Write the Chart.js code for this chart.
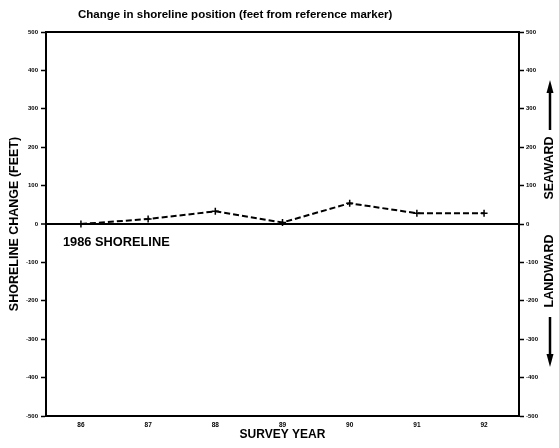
<!DOCTYPE html>
<html lang="en">
<head>
<meta charset="UTF-8">
<title>Change in shoreline position</title>
<script src="https://cdn.jsdelivr.net/npm/chart.js"></script>
<style>
  html, body { margin: 0; padding: 0; background: #fff; }
</style>
</head>
<body>
<canvas id="chart" width="559" height="448"></canvas>
<script>
// survey years and shoreline change (feet, + = seaward)
const years = [86, 87, 88, 89, 90, 91, 92];
const change = [0, 13, 33, 4, 54, 28, 28];
const xMin = 85.48, xMax = 92.52;
const yMin = -500, yMax = 500, yStep = 100;

const FONT = '"Liberation Sans", Arial, sans-serif';

function arrow(ctx, x, y1, y2) {
  // shaft from y1 to y2, head at y2
  const dir = y2 < y1 ? -1 : 1;
  ctx.beginPath();
  ctx.lineWidth = 2.5;
  ctx.moveTo(x, y1);
  ctx.lineTo(x, y2 - dir * 10);
  ctx.stroke();
  ctx.beginPath();
  ctx.moveTo(x, y2);
  ctx.lineTo(x - 3.5, y2 - dir * 13);
  ctx.lineTo(x + 3.5, y2 - dir * 13);
  ctx.closePath();
  ctx.fill();
}

const decor = {
  id: 'decor',
  afterDraw(chart) {
    const ctx = chart.ctx;
    const a = chart.chartArea;
    ctx.save();
    ctx.strokeStyle = '#000';
    ctx.fillStyle = '#000';
    // top frame line
    ctx.lineWidth = 2;
    ctx.beginPath();
    ctx.moveTo(a.left - 1, a.top);
    ctx.lineTo(a.right + 1, a.top);
    ctx.stroke();

    ctx.textBaseline = 'middle';
    ctx.font = 'bold 11.5px ' + FONT;
    ctx.textAlign = 'left';
    ctx.fillText('Change in shoreline position (feet from reference marker)', 78, 15);

    ctx.font = 'bold 12.8px ' + FONT;
    ctx.fillText('1986 SHORELINE', 63, 242);

    // right side labels
    ctx.font = 'bold 12.5px ' + FONT;
    ctx.textAlign = 'center';
    ctx.save();
    ctx.translate(550, 168);
    ctx.rotate(-Math.PI / 2);
    ctx.fillText('SEAWARD', 0, 0);
    ctx.restore();
    ctx.save();
    ctx.translate(550, 271);
    ctx.rotate(-Math.PI / 2);
    ctx.fillText('LANDWARD', 0, 0);
    ctx.restore();

    arrow(ctx, 550, 130, 80);
    arrow(ctx, 550, 317, 367);
    ctx.restore();
  }
};

const yGrid = {
  color: c => (c.tick && c.tick.value === 0 ? '#000' : 'rgba(0,0,0,0)'),
  lineWidth: c => (c.tick && c.tick.value === 0 ? 2 : 1),
  tickColor: '#000',
  tickWidth: 1.5,
  tickLength: 5
};

new Chart(document.getElementById('chart'), {
  type: 'line',
  data: {
    datasets: [{
      label: 'Shoreline change',
      data: years.map((y, i) => ({ x: y, y: change[i] })),
      borderColor: '#000',
      backgroundColor: '#000',
      borderWidth: 2,
      borderDash: [6, 3],
      pointStyle: 'cross',
      pointRadius: 3.5,
      pointBorderWidth: 1.5,
      fill: false,
      tension: 0
    }]
  },
  options: {
    responsive: false,
    animation: false,
    devicePixelRatio: 1,
    layout: { padding: { top: 32, left: 0, right: 0, bottom: 0 } },
    plugins: {
      legend: { display: false },
      tooltip: { enabled: false },
      title: { display: false }
    },
    scales: {
      x: {
        type: 'linear',
        min: xMin,
        max: xMax,
        afterBuildTicks: s => { s.ticks = years.map(v => ({ value: v })); },
        afterFit: s => { s.height = 32; },
        ticks: {
          autoSkip: false,
          padding: 5,
          color: '#000',
          font: { family: FONT, size: 6.5, weight: 'bold' }
        },
        grid: { drawOnChartArea: false, drawTicks: false },
        border: { display: true, color: '#000', width: 2 },
        title: {
          display: true,
          text: 'SURVEY YEAR',
          color: '#000',
          font: { family: FONT, size: 12, weight: 'bold' },
          padding: { top: 0, bottom: 6 }
        }
      },
      y: {
        position: 'left',
        min: yMin,
        max: yMax,
        afterFit: s => { s.width = 46; },
        ticks: {
          stepSize: yStep,
          padding: 3,
          color: '#000',
          font: { family: FONT, size: 6, weight: 'bold' }
        },
        grid: yGrid,
        border: { display: true, color: '#000', width: 2 },
        title: {
          display: true,
          text: 'SHORELINE CHANGE (FEET)',
          color: '#000',
          font: { family: FONT, size: 12.5, weight: 'bold' },
          padding: { top: 7, bottom: 0 }
        }
      },
      y2: {
        position: 'right',
        min: yMin,
        max: yMax,
        afterFit: s => { s.width = 40; },
        ticks: {
          stepSize: yStep,
          padding: 2,
          color: '#000',
          font: { family: FONT, size: 6, weight: 'bold' }
        },
        grid: { drawOnChartArea: false, tickColor: '#000', tickWidth: 1.5, tickLength: 5 },
        border: { display: true, color: '#000', width: 2 }
      }
    }
  },
  plugins: [decor]
});
</script>
</body>
</html>
